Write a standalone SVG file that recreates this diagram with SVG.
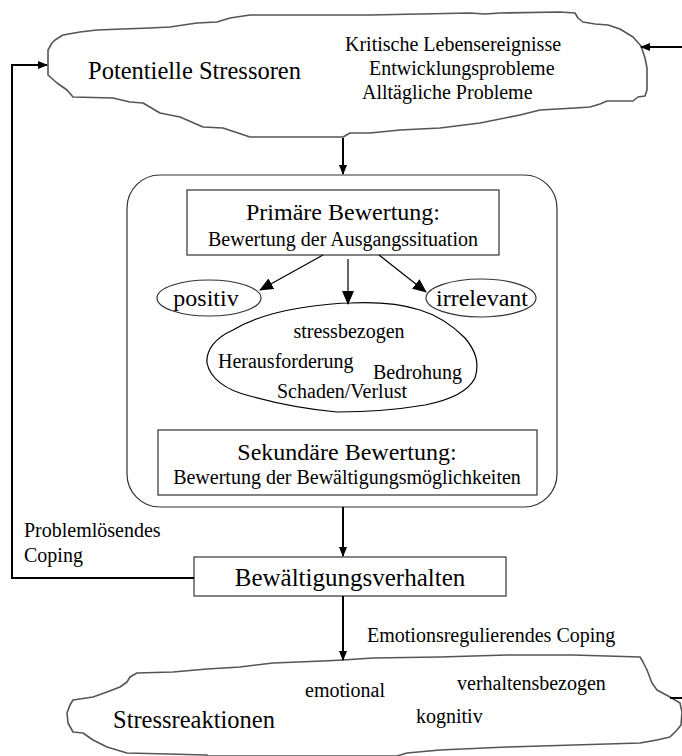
<svg xmlns="http://www.w3.org/2000/svg" width="682" height="756" viewBox="0 0 682 756">
<style>
text{font-family:"Liberation Serif","Times New Roman",serif;fill:#000}
.s{font-size:20px}
.b{font-size:24px}
.r{font-size:20px}
.box{fill:#fff;stroke:#333;stroke-width:1.2}
.cloud{fill:#fff;stroke:#555;stroke-width:1.6;stroke-linejoin:round}
.ln{fill:none;stroke:#000;stroke-width:2}
.thin{fill:none;stroke:#000;stroke-width:1.2}
</style>
<defs>
<marker id="ah" markerWidth="10" markerHeight="10" refX="9" refY="5" orient="auto" markerUnits="userSpaceOnUse"><path d="M0,1 L10,5 L0,9 Z" fill="#000"/></marker>
<marker id="ah2" markerWidth="14" markerHeight="12" refX="13" refY="6" orient="auto" markerUnits="userSpaceOnUse"><path d="M0,0 L14,6 L0,12 Z" fill="#000"/></marker>
</defs>
<rect width="682" height="756" fill="#fff"/>

<g id="stressoren">
<path class="cloud" d="M48,75 L48,50 L52,43 L55,40 L63,35 L80,32 L97,30 L123,29 L150,28 L170,27 L197,23 L217,22 L230,18 L250,15 L370,15 L470,13 L485,14 L500,13 L560,12 L575,13 L578,18 L583,22 L595,24 L608,25 L620,29 L633,37 L641,46 L645,58 L647,68 L647,90 L645,96 L638,97 L633,101 L607,101 L600,104 L590,107 L575,108 L540,110 L520,115 L480,123 L440,128 L400,130 L370,133 L350,133 L343,137 L250,137 L223,128 L203,127 L180,117 L160,113 L143,103 L130,102 L113,98 L73,97 L67,90 L57,83 Z"/>
<text x="88" y="79" style="font-size:24.5px">Potentielle Stressoren</text>
<text class="s" x="345" y="51">Kritische Lebensereignisse</text>
<text class="s" x="369" y="75">Entwicklungsprobleme</text>
<text class="s" x="362" y="99">Alltägliche Probleme</text>
</g>

<g id="bewertung">
<rect x="127" y="175" width="430" height="332" rx="33" ry="33" fill="#fff" stroke="#333" stroke-width="1.2"/>
</g>

<g id="primaer">
<rect class="box" x="187" y="190" width="312" height="65"/>
<text class="b" x="343" y="220" text-anchor="middle">Primäre Bewertung:</text>
<text class="s" x="343" y="246" text-anchor="middle">Bewertung der Ausgangssituation</text>
</g>

<g id="positiv">
<ellipse cx="209" cy="298" rx="52" ry="18" fill="#fff" stroke="#333" stroke-width="1.2"/>
<text x="206" y="306" text-anchor="middle" style="font-size:24px">positiv</text>
</g>

<g id="irrelevant">
<ellipse cx="481" cy="298" rx="55" ry="19" fill="#fff" stroke="#333" stroke-width="1.2"/>
<text x="482" y="306" text-anchor="middle" style="font-size:24px">irrelevant</text>
</g>

<g id="stressbezogen">
<path fill="#fff" stroke="#000" stroke-width="1.2" d="M350,303 C370,302 395,302 420,310 C440,316 455,328 465,338 C475,350 480,362 475,378 C468,392 450,400 425,405 C395,410 365,412 337,412 C305,409 275,403 250,396 C225,390 210,378 207,363 C206,350 215,338 233,330 C250,320 275,312 300,308 C320,305 335,303 350,303 Z"/>
<text class="s" x="349" y="338" text-anchor="middle">stressbezogen</text>
<text class="s" x="218" y="368">Herausforderung</text>
<text class="s" x="373" y="379">Bedrohung</text>
<text class="s" x="277" y="398">Schaden/Verlust</text>
</g>

<g id="sekundaer">
<rect class="box" x="158" y="430" width="379" height="65"/>
<text class="b" x="347" y="460" text-anchor="middle">Sekundäre Bewertung:</text>
<text class="s" x="347" y="484" text-anchor="middle">Bewertung der Bewältigungsmöglichkeiten</text>
</g>

<g id="bewaeltigung">
<rect class="box" x="194" y="557" width="312" height="39"/>
<text x="350" y="586" text-anchor="middle" style="font-size:25px">Bewältigungsverhalten</text>
</g>

<g id="stressreaktionen">
<path class="cloud" stroke="#111" d="M207,755 L127,753 L107,747 L93,740 L83,733 L73,732 L68,723 L67,713 L70,705 L73,700 L93,697 L107,692 L120,687 L127,682 L130,677 L137,673 L173,672 L207,669 L240,667 L273,663 L323,661 L343,660 L373,658 L440,657 L507,655 L573,655 L640,657 L643,662 L647,670 L652,683 L657,690 L670,697 L680,703 L682,712 L681,725 L677,730 L670,737 L657,740 L640,743 L507,747 L440,750 L407,753 L397,756 L207,756 Z"/>
<text x="113" y="728" style="font-size:24.5px">Stressreaktionen</text>
<text class="r" x="305" y="697">emotional</text>
<text class="r" x="457" y="690">verhaltensbezogen</text>
<text class="r" x="416" y="723">kognitiv</text>
</g>

<g id="connectors">
<line class="ln" x1="343" y1="138" x2="343" y2="174" marker-end="url(#ah)"/>
<line class="thin" x1="323" y1="255" x2="260" y2="290" marker-end="url(#ah2)"/>
<line class="thin" x1="348" y1="259" x2="348" y2="304" marker-end="url(#ah2)"/>
<line class="thin" x1="379" y1="255" x2="426" y2="292" marker-end="url(#ah2)"/>
<line class="ln" x1="343" y1="507" x2="343" y2="556" marker-end="url(#ah)"/>
<line class="ln" x1="343" y1="596" x2="343" y2="660" marker-end="url(#ah)"/>
<polyline class="ln" points="194,578 12,578 12,65 47,65" marker-end="url(#ah)"/>
<line class="ln" x1="682" y1="47" x2="641" y2="47" marker-end="url(#ah)"/>
<line class="ln" x1="670" y1="698" x2="682" y2="698"/>
<text class="s" x="24" y="537">Problemlösendes</text>
<text class="s" x="24" y="562">Coping</text>
<text class="s" x="367" y="642">Emotionsregulierendes Coping</text>
</g>
</svg>
